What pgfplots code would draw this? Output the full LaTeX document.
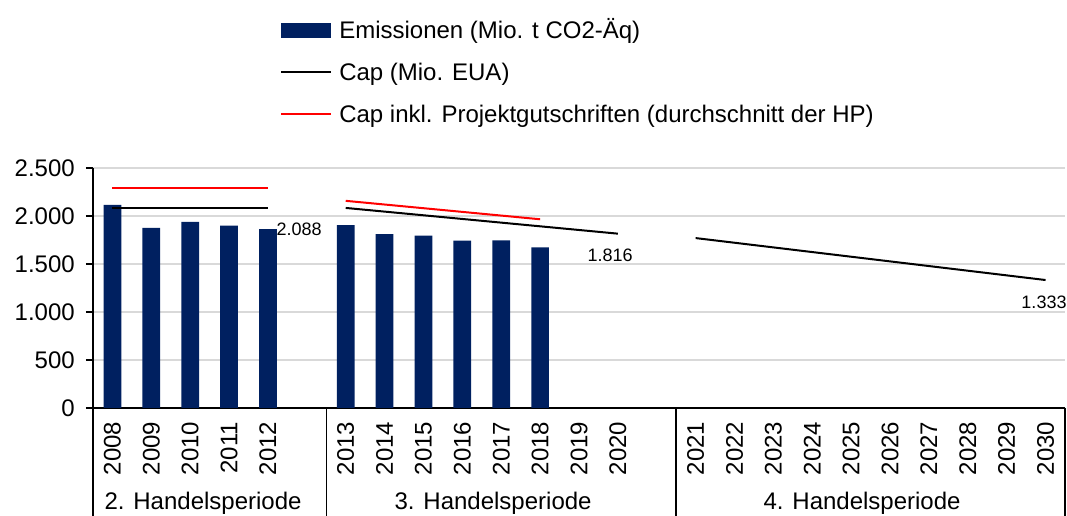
\documentclass[border=0pt]{standalone}
\usepackage{fontspec}
\setmainfont{Liberation Sans}
\usepackage{pgfplots}
\pgfplotsset{compat=1.18}
\definecolor{navy}{RGB}{0,32,96}
\definecolor{gridgray}{RGB}{217,217,217}
\begin{document}
\begin{tikzpicture}[font=\fontsize{18}{21.6}\selectfont]
\path[use as bounding box] (-69.75pt,-81pt) rectangle (730.5pt,306pt);
\begin{scope}[overlay]
\clip (-69.75pt,-81pt) rectangle (730.5pt,306pt);
\begin{axis}[
  at={(0pt,0pt)}, anchor=south west,
  scale only axis, width=729pt, height=180pt,
  xmin=-0.5, xmax=24.5, ymin=0, ymax=2500,
  clip=false,
  axis lines*=left,
  axis line style={black, line width=1.1pt},
  ytick={0,500,1000,1500,2000,2500},
  ymajorgrids, grid style={gridgray, line width=1pt},
  tick align=outside, major tick length=5.25pt,
  ytick style={black, line width=1.1pt},
  xtick style={draw=none},
  xtick={0,1,2,3,4,6,7,8,9,10,11,12,13,15,16,17,18,19,20,21,22,23,24},
  xticklabels={2008,2009,2010,2011,2012,2013,2014,2015,2016,2017,2018,2019,2020,2021,2022,2023,2024,2025,2026,2027,2028,2029,2030},
  xticklabel style={rotate=90, anchor=east, inner sep=0pt},
  xticklabel shift=5pt,
  yticklabel style={anchor=east, inner sep=0pt},
  yticklabel shift=8.25pt,
  /pgf/number format/assume math mode=true,
  /pgf/number format/1000 sep={.},
  scaled y ticks=false,
  legend cell align=left,
  legend style={at={(0.19239,1.6111)}, anchor=north west, draw=none, fill=none,
    inner sep=0pt, row sep=18.5pt,
    nodes={inner ysep=0pt, inner xsep=5.25pt, text height=13pt, text depth=0pt}},
]
\addplot[ybar, bar width=13.3pt, bar shift=0pt, fill=navy, draw=none,
  legend image code/.code={\fill[navy] (0pt,-5.6pt) rectangle (37.5pt,5.6pt);}]
  coordinates {(0,2116) (1,1877) (2,1940) (3,1900) (4,1862) (6,1904) (7,1810) (8,1795) (9,1743) (10,1747) (11,1674)};
\addlegendentry{Emissionen (Mio. t CO2-Äq)}
\addplot[black, line width=1.5pt,
  legend image code/.code={\draw[black, line width=1.5pt] (0pt,0pt) -- (37.5pt,0pt);}]
  coordinates {(0,2088) (4,2088)};
\addlegendentry{Cap (Mio. EUA)}
\addplot[red, line width=1.5pt,
  legend image code/.code={\draw[red, line width=1.5pt] (0pt,0pt) -- (37.5pt,0pt);}]
  coordinates {(0,2293) (4,2293)};
\addlegendentry{Cap inkl. Projektgutschriften (durchschnitt der HP)}
\addplot[black, line width=1.5pt, forget plot] coordinates {(6,2084) (13,1816)};
\addplot[black, line width=1.5pt, forget plot] coordinates {(15,1770) (24,1333)};
\addplot[red, line width=1.5pt, forget plot] coordinates {(6,2158) (11,1966)};
% data labels
\node[font=\fontsize{13.5}{16}\selectfont, inner sep=0pt] at (axis cs:4.80,1865) {2.088};
\node[font=\fontsize{13.5}{16}\selectfont, inner sep=0pt] at (axis cs:12.80,1587) {1.816};
\node[font=\fontsize{13.5}{16}\selectfont, inner sep=0pt] at (axis cs:23.96,1096) {1.333};
% separators
\draw[black, line width=1.1pt] (axis cs:-0.5,0) -- ++(0pt,-95pt);
\draw[black, line width=1.1pt] (axis cs:5.5,0) -- ++(0pt,-95pt);
\draw[black, line width=1.1pt] (axis cs:14.5,0) -- ++(0pt,-95pt);
\draw[black, line width=1.1pt] (axis cs:24.5,0) -- ++(0pt,-95pt);
% group labels
\node[anchor=base, inner sep=0pt] at ([yshift=-75.8pt]axis cs:2.33,0) {2. Handelsperiode};
\node[anchor=base, inner sep=0pt] at ([yshift=-75.8pt]axis cs:9.79,0) {3. Handelsperiode};
\node[anchor=base, inner sep=0pt] at ([yshift=-75.8pt]axis cs:19.28,0) {4. Handelsperiode};
\end{axis}
\end{scope}
\end{tikzpicture}
\end{document}
